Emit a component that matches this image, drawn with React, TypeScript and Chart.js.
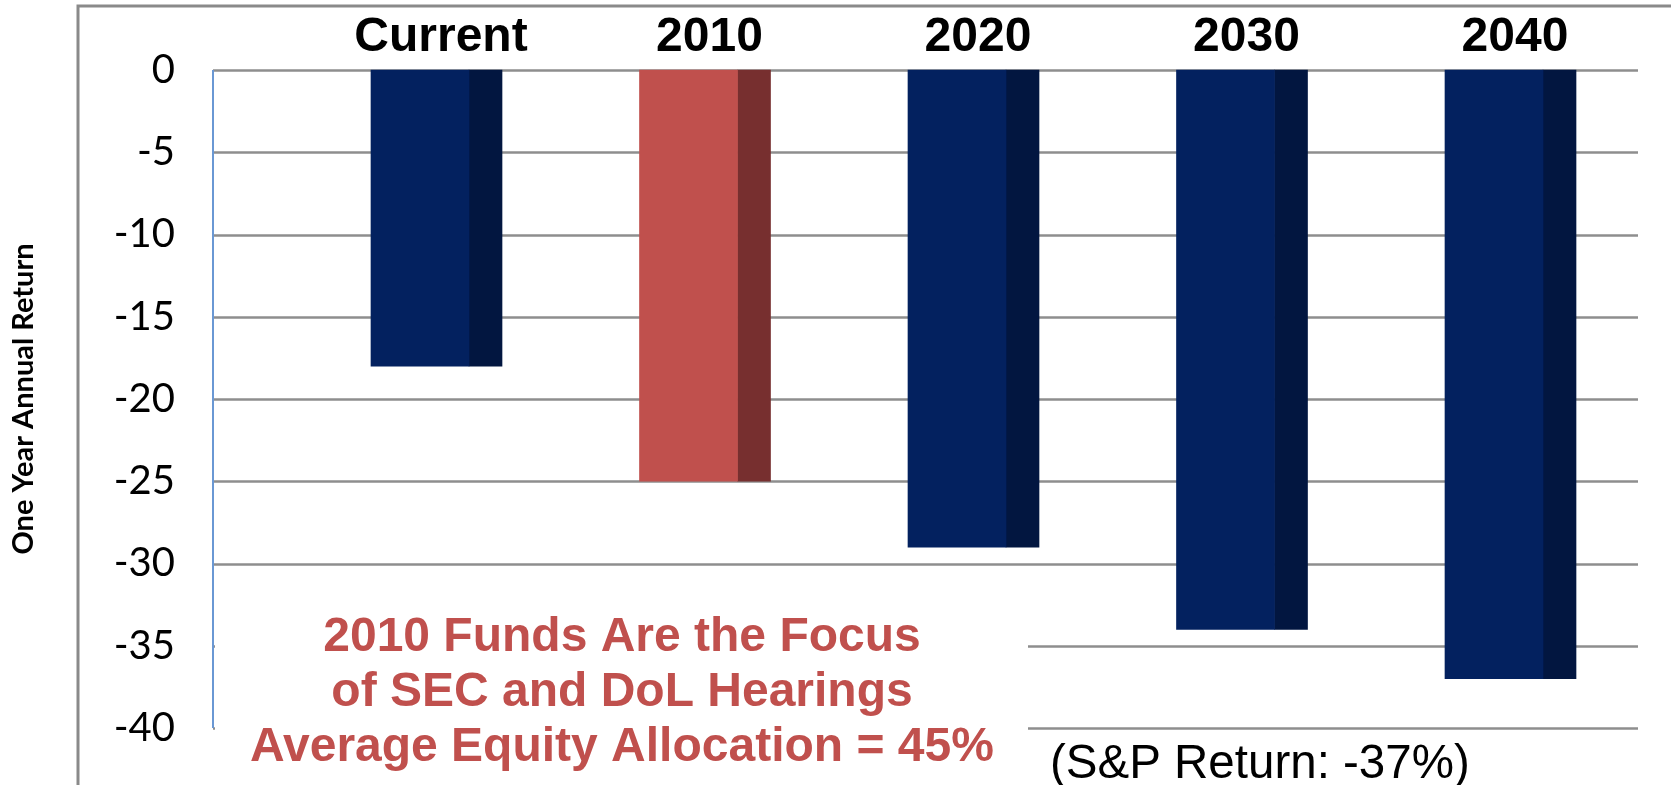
import React, { useEffect, useRef } from 'react';
import { Chart, registerables } from 'chart.js';

Chart.register(...registerables);

const categories = ['Current', '2010', '2020', '2030', '2040'];
const returns = [-18, -25, -29, -34, -37];
const frontColors = ['#03215F', '#C0504D', '#03215F', '#03215F', '#03215F'];
const sideColors = ['#021640', '#772F2F', '#021640', '#021640', '#021640'];
const yMin = -40;
const yMax = 0;
const yStep = 5;
const yTitle = 'One Year Annual Return';
const noteLines = [
  '2010 Funds Are the Focus',
  'of SEC and DoL Hearings',
  'Average Equity Allocation = 45%',
];
const spNote = '(S&P Return: -37%)';

const ARIAL = '"Liberation Sans", Arial, Helvetica, sans-serif';
const CALIBRI = 'Lato, "Open Sans", sans-serif';

export default function App() {
  const ref = useRef<HTMLCanvasElement>(null);

  useEffect(() => {
    const canvas = ref.current;
    if (!canvas) return;

    const decor = {
      id: 'decor',
      beforeDatasetsDraw(chart: any) {
        const { ctx } = chart;
        const y = chart.scales.y;
        ctx.save();
        // horizontal grid lines
        ctx.strokeStyle = '#8e8e8e';
        ctx.lineWidth = 2.5;
        y.ticks.forEach((t: any) => {
          const py = Math.round(y.getPixelForValue(t.value)) + 0.5;
          ctx.beginPath();
          ctx.moveTo(213, py);
          ctx.lineTo(1638, py);
          ctx.stroke();
        });
        // white text box covering lower grid lines
        ctx.fillStyle = '#ffffff';
        ctx.fillRect(215, 578, 813, 210);
        // vertical axis line
        ctx.strokeStyle = '#6a98d4';
        ctx.lineWidth = 2;
        ctx.beginPath();
        ctx.moveTo(213, y.getPixelForValue(yMax));
        ctx.lineTo(213, y.getPixelForValue(yMin));
        ctx.stroke();
        // outer frame
        ctx.strokeStyle = '#8a8a8a';
        ctx.lineWidth = 3;
        ctx.beginPath();
        ctx.moveTo(78, 790);
        ctx.lineTo(78, 6);
        ctx.lineTo(1675, 6);
        ctx.stroke();
        ctx.restore();
      },
      afterDraw(chart: any) {
        const { ctx } = chart;
        ctx.save();
        ctx.fillStyle = '#C0504D';
        ctx.font = `bold 48px ${ARIAL}`;
        ctx.textAlign = 'center';
        ctx.textBaseline = 'alphabetic';
        noteLines.forEach((line, i) => {
          ctx.fillText(line, 622, 651 + i * 55);
        });
        ctx.fillStyle = '#000000';
        ctx.font = `47.5px ${ARIAL}`;
        ctx.textAlign = 'left';
        ctx.fillText(spNote, 1050, 778);
        ctx.restore();
      },
    };

    const chart = new Chart(canvas, {
      type: 'bar',
      data: {
        labels: categories,
        datasets: [
          {
            label: 'front',
            data: returns,
            backgroundColor: frontColors,
            borderWidth: 0,
            barThickness: 98,
            clip: false as any,
          },
          {
            label: 'side',
            data: returns,
            backgroundColor: sideColors,
            borderWidth: 0,
            barThickness: 33,
            clip: false as any,
          },
        ],
      },
      options: {
        responsive: false,
        animation: false,
        layout: { padding: { left: 0, right: 128, top: 0, bottom: 57 } },
        plugins: {
          legend: { display: false },
          tooltip: { enabled: false },
        },
        scales: {
          x: {
            type: 'category',
            position: 'top',
            offset: false,
            grid: { display: false, drawTicks: false },
            border: { display: false },
            ticks: {
              font: { family: ARIAL, size: 48, weight: 'bold' },
              color: '#000000',
              padding: 3,
              labelOffset: -28,
              maxRotation: 0,
              autoSkip: false,
            },
            afterFit(scale: any) {
              scale.height = 70;
              scale.paddingLeft = 0;
              scale.paddingRight = 0;
            },
          },
          y: {
            min: yMin,
            max: yMax,
            grid: { display: false, drawTicks: false },
            border: { display: false },
            ticks: {
              stepSize: yStep,
              font: { family: CALIBRI, size: 40 },
              color: '#000000',
              padding: 294,
            },
            title: {
              display: true,
              text: yTitle,
              font: { family: CALIBRI, size: 29, weight: 'bold' },
              color: '#000000',
              padding: { top: 6, bottom: 0 },
            },
            afterFit(scale: any) {
              scale.width = 469;
              scale.paddingTop = 0;
              scale.paddingBottom = 0;
            },
          },
        },
      } as any,
      plugins: [decor],
    });

    return () => chart.destroy();
  }, []);

  return (
    <div style={{ position: 'absolute', left: 0, top: 0, width: 1671, height: 785, background: '#fff' }}>
      <canvas ref={ref} width={1671} height={785} style={{ display: 'block' }} />
    </div>
  );
}
